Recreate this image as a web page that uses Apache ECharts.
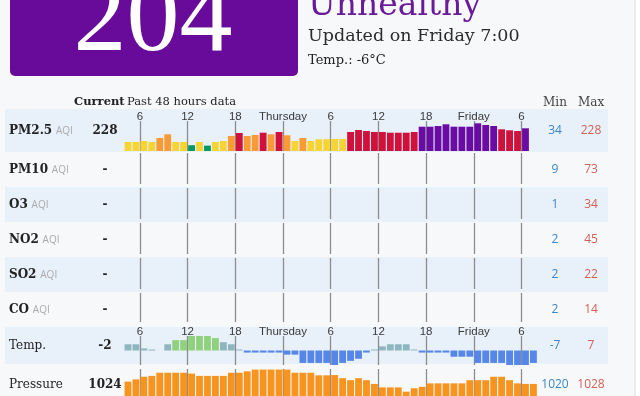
<!DOCTYPE html>
<html><head><meta charset="utf-8">
<script src="https://cdn.jsdelivr.net/npm/echarts@6/dist/echarts.min.js"></script>
<style>html,body{margin:0;padding:0;background:#f7f8f9}#c{width:640px;height:396px}</style>
</head><body><div id="c"></div><script>
// ---------- data ----------
const hours = ['4','5','6','7','8','9','10','11','12','13','14','15','16','17','18','19','20','21','22','23',
  'Thursday','1','2','3','4','5','6','7','8','9','10','11','12','13','14','15','16','17','18','19','20','21','22','23',
  'Friday','1','2','3','4','5','6','7'];
const tickNames = ['6','12','18','Thursday','Friday'];
const pm25 = [70,70,80,70,110,147,70,70,38,70,34,70,80,130,160,130,140,163,147,170,137,80,110,80,97,98,100,100,
  170,190,180,170,170,163,163,163,170,223,223,230,247,223,223,223,257,240,230,197,187,180,207,null];
const temp = [3,3,1,0,null,3,5,5,7,7,7,6,4,3,0,-1,-1,-1,-1,-1,-2,-2,-6,-6,-6,-6,-7,-6,-5,-4,-1,0,2,3,3,3,0,
  -1,-1,-1,-1,-3,-3,-3,-6,-6,-6,-6,-7,-7,-7,-6];
const pressure = [1023.6,1024.4,1025.3,1025.6,1026.7,1026.7,1026.7,1026.7,1026.4,1025.6,1025.6,1025.6,1025.6,
  1026.7,1026.7,1027.2,1027.8,1027.8,1027.8,1027.8,1027.8,1026.7,1026.7,1026.7,1025.8,1025.8,1025.9,1024.8,
  1024.1,1024.8,1024.1,1022.8,1021.6,1021.6,1021.6,1020.1,1021.3,1021.8,1023,1023,1023,1023,1023,1024.1,1024.1,
  1024.1,1025.3,1025.3,1024.1,1023,1022.8,1022.8];
const rowNames = ['PM2.5','PM10','O3','NO2','SO2','CO','Temp.','Pressure'];
const rowUnits = ['AQI','AQI','AQI','AQI','AQI','AQI','',''];
const currentValues = ['228','-','-','-','-','-','-2','1024'];
const minValues = ['34','9','1','2','2','2','-7','1020'];
const maxValues = ['228','73','34','45','22','14','7','1028'];
const aqiNumber = '204';
const aqiLevel = 'Unhealthy';
const updatedText = 'Updated on Friday 7:00';
const tempText = 'Temp.: -6\u00b0C';

// ---------- layout / style ----------
const rowY = [131,170,205,240,275,310,346,385];
const bands = [[109,152],[152,187],[187,222],[222,257],[257,292],[292,327],[327,364],[364,396]];
const gridTops = [121,153,188,223,258,293,336,369];
const gridHeights = [30,31,31,31,31,29,29,27];
const GL = 124, GW = 52 * 7.95;

function aqiColor(v){
  if (v <= 50) return '#009966';
  if (v <= 100) return '#f6d436';
  if (v <= 150) return '#f89a36';
  if (v <= 200) return '#d0113c';
  return '#6a0ca3';
}
function tempColor(v){
  if (v < 0) return '#5686e8';
  if (v < 5) return '#8db6be';
  return '#90d17f';
}

const serif = '"DejaVu Serif"';
const graphics = [];
bands.forEach((b,i)=>graphics.push({type:'rect', z:-10, silent:true,
  shape:{x:5,y:b[0],width:603,height:b[1]-b[0]}, style:{fill: i%2===0 ? '#e8f0f9' : '#f7f8f9'}}));
graphics.push({type:'rect', z:-10, shape:{x:635,y:0,width:5,height:396}, style:{fill:'#ffffff'}});
graphics.push({type:'rect', z:-10, shape:{x:634.5,y:0,width:1,height:396}, style:{fill:'#dcdcdc'}});
graphics.push({type:'rect', z:1, shape:{x:10,y:-8,width:288,height:84,r:5}, style:{fill:'#680b9a'}});

function txt(x,y,text,font,fill,align){
  return {type:'text', z:10, x:x, y:y, silent:true,
    style:{text:text, font:font, fill:fill, align:align||'left', verticalAlign:'middle',
      textAlign:align||'left', textVerticalAlign:'middle'}};
}
graphics.push(txt(153,22,aqiNumber,'106px "Liberation Serif"','#ffffff','center'));
graphics.push(txt(308,6.5,aqiLevel,'33px '+serif,'#6a1b9a'));
graphics.push(txt(308,36,updatedText,'17.5px '+serif,'#2b2b2b'));
graphics.push(txt(308,60.5,tempText,'13px '+serif,'#222'));
graphics.push(txt(74,102,'Current','bold 11.5px '+serif,'#222'));
graphics.push(txt(127,102,'Past 48 hours data','11.5px '+serif,'#222'));
graphics.push(txt(543,102.5,'Min','12px '+serif,'#444'));
graphics.push(txt(578,102.5,'Max','12px '+serif,'#444'));

rowNames.forEach((n,i)=>{
  const bold = i < 6;
  graphics.push({type:'text', z:10, x:9, y:rowY[i], silent:true,
    style:{legacy:false, text: rowUnits[i] ? '{n|'+n+'} {u|'+rowUnits[i]+'}' : '{n|'+n+'}',
      font:'12px '+serif, fill:'#222', align:'left', verticalAlign:'middle',
      rich:{ n:{fontFamily:'DejaVu Serif', fontSize:12, fontWeight: bold?'bold':'normal', fill:'#222'},
             u:{fontFamily:'Open Sans', fontSize:10, fill:'#aaaaaa'} }}});
  graphics.push(txt(105,rowY[i],currentValues[i],'bold 12px '+serif,'#222','center'));
  graphics.push(txt(555,rowY[i],minValues[i],'12px "Open Sans"','#3a86c8','center'));
  graphics.push(txt(591,rowY[i],maxValues[i],'12px "Open Sans"','#d0625a','center'));
});

const isTick = (idx,val)=>tickNames.includes(val);
const grids = gridTops.map((t,i)=>({left:GL, width:GW, top:t, height:gridHeights[i]}));
const xAxes = gridTops.map((t,i)=>({
  type:'category', gridIndex:i, data:hours, position:'top', boundaryGap:true,
  axisLine:{show:false}, axisTick:{show:false},
  axisLabel:{show: i===0 || i===6, interval:isTick, margin:-2, padding:[0,7.95,0,0],
    fontFamily:'Liberation Sans', fontSize:11.5, color:'#3a3a3a'},
  splitLine:{show:true, interval:isTick, showMinLine:true, showMaxLine:false,
    lineStyle:{color:'#8c8c8c', width:1.3}}
}));
const yAxes = gridTops.map((t,i)=>{
  const y = {type:'value', gridIndex:i, show:false, splitLine:{show:false}, min:0, max:1};
  if (i===0) { y.min=-20; y.max=280; y.startValue=-20; }
  if (i===6) { y.min=-7; y.max=7; }
  if (i===7) { y.min=1018.6; y.max=1028; y.startValue=1018.6; }
  return y;
});

const chart = echarts.init(document.getElementById('c'), null, {renderer:'canvas'});
chart.setOption({
  backgroundColor:'#f7f8f9',
  animation:false,
  graphic:{elements:graphics},
  grid:grids, xAxis:xAxes, yAxis:yAxes,
  series:[
    {type:'bar', xAxisIndex:0, yAxisIndex:0, data:pm25, barCategoryGap:'14%',
      itemStyle:{color:p=>aqiColor(p.value)}},
    {type:'bar', xAxisIndex:6, yAxisIndex:6, data:temp, barCategoryGap:'14%', barMinHeight:1,
      itemStyle:{color:p=>tempColor(p.value)}},
    {type:'bar', xAxisIndex:7, yAxisIndex:7, data:pressure, barCategoryGap:'14%',
      itemStyle:{color:'#f7941f'}}
  ]
});
</script></body></html>
